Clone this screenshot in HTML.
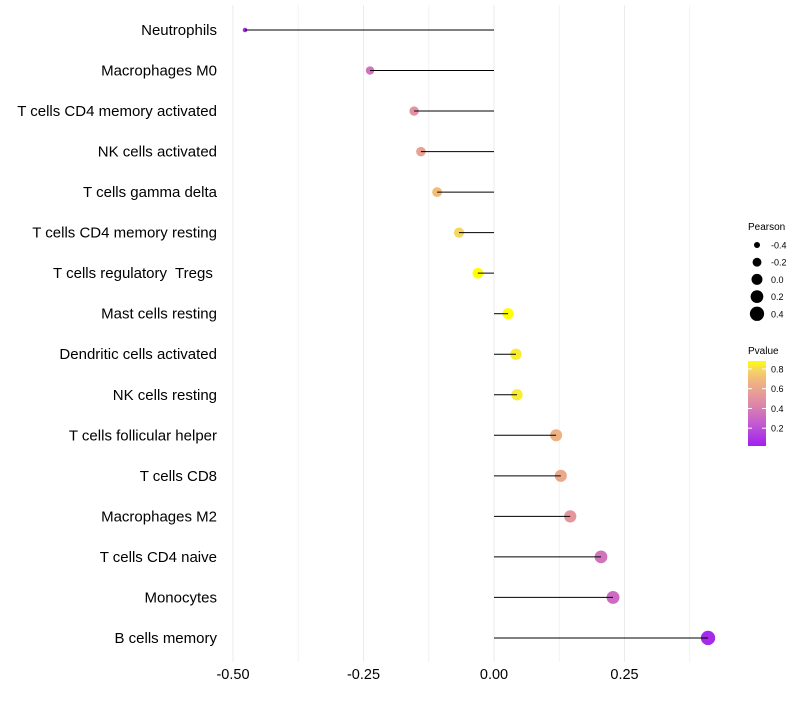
<!DOCTYPE html>
<html><head><meta charset="utf-8"><style>
body{margin:0;background:#fff;font-family:"Liberation Sans",sans-serif}
text{white-space:pre}
</style></head><body>
<svg id="c" width="800" height="700" xmlns="http://www.w3.org/2000/svg" style="font-family:'Liberation Sans',sans-serif">
<defs><linearGradient id="pg" x1="0" y1="1" x2="0" y2="0">
<stop offset="0" stop-color="#a020f0"/><stop offset="0.27" stop-color="#c45cd0"/><stop offset="0.5" stop-color="#de88a8"/><stop offset="0.67" stop-color="#eaa590"/><stop offset="0.8" stop-color="#f2bc78"/><stop offset="0.9" stop-color="#f5d860"/><stop offset="1" stop-color="#ffff00"/>
</linearGradient></defs>
<g id="grid"></g><g id="marks"></g><g id="labels"></g>
<g>
<text x="748" y="230" font-size="10">Pearson</text>
<g id="sleg"></g>
</g>
<g>
<text x="748" y="354" font-size="10">Pvalue</text>
<rect x="748" y="361" width="18" height="85" fill="url(#pg)"/>
<g id="cleg"></g>
</g>
</svg>
<script>
const categories=["Neutrophils","Macrophages M0","T cells CD4 memory activated","NK cells activated","T cells gamma delta","T cells CD4 memory resting","T cells regulatory  Tregs ","Mast cells resting","Dendritic cells activated","NK cells resting","T cells follicular helper","T cells CD8","Macrophages M2","T cells CD4 naive","Monocytes","B cells memory"];
const pearson=[-0.477,-0.2375,-0.153,-0.14,-0.109,-0.067,-0.031,0.027,0.042,0.044,0.119,0.128,0.146,0.205,0.228,0.41];
const pvalue=[0.05,0.35,0.5,0.58,0.72,0.82,0.9,0.9,0.86,0.86,0.66,0.62,0.52,0.36,0.32,0.06];
const xTicks=[-0.5,-0.25,0,0.25];
const xTickLabels=["-0.50","-0.25","0.00","0.25"];
const minorTicks=[-0.375,-0.125,0.125,0.375];
const sizeLegend=[-0.4,-0.2,0.0,0.2,0.4];
const sizeLegendLabels=["-0.4","-0.2","0.0","0.2","0.4"];
const colorTicks=[0.2,0.4,0.6,0.8];
const colorTickLabels=["0.2","0.4","0.6","0.8"];

const NS="http://www.w3.org/2000/svg";
const x=v=>494+v*522;
const y=i=>30+i*40.53;
const r=v=>Math.sqrt(Math.max(3,30+52*v));
const stops=[[0.02,[160,32,240]],[0.25,[196,92,208]],[0.45,[222,136,168]],[0.6,[234,165,144]],[0.72,[242,188,120]],[0.82,[245,216,96]],[0.9,[255,255,0]]];
function col(p){if(p<=stops[0][0])return "rgb("+stops[0][1]+")";for(let i=1;i<stops.length;i++){if(p<=stops[i][0]){const a=stops[i-1],b=stops[i],t=(p-a[0])/(b[0]-a[0]);return "rgb("+a[1].map((c,k)=>Math.round(c+(b[1][k]-c)*t)).join(",")+")";}}return "rgb(255,255,0)";}
function mk(tag,attrs,parent){const e=document.createElementNS(NS,tag);for(const k in attrs)e.setAttribute(k,attrs[k]);document.getElementById(parent).appendChild(e);return e;}
const cy=v=>446-(v-0.02)/0.86*85;

xTicks.forEach((t,i)=>{
  const g=mk("line",{x1:x(t),x2:x(t),y1:5,y2:662,stroke:"#ebebeb","stroke-width":1},"grid");
  
  
  const tx=mk("text",{x:x(t),y:679,"font-size":14.5,"text-anchor":"middle",fill:"#000"},"labels");
  tx.textContent=xTickLabels[i];
  
  
});
minorTicks.forEach(t=>{
  const g=mk("line",{x1:x(t),x2:x(t),y1:5,y2:662,stroke:"#f2f2f2","stroke-width":1},"grid");
  
  
});
categories.forEach((c,i)=>{
  const d=mk("circle",{cx:x(pearson[i]),cy:y(i),r:r(pearson[i]),fill:col(pvalue[i])},"marks");
  
  
  const l=mk("line",{x1:x(0),x2:x(pearson[i]),y1:y(i),y2:y(i),stroke:"#000","stroke-width":1},"marks");
  
  
  const t=mk("text",{x:217,y:y(i)+5,"font-size":15,"text-anchor":"end",fill:"#000"},"labels");
  t.textContent=c;
  
  
});
sizeLegend.forEach((v,i)=>{
  const yy=245+i*17.2;
  const c=mk("circle",{cx:757,cy:yy,r:r(v),fill:"#000"},"sleg");
  
  
  const t=mk("text",{x:771,y:yy+3.5,"font-size":9},"sleg");
  t.textContent=sizeLegendLabels[i];
  
  
});
colorTicks.forEach((v,i)=>{
  const t=mk("text",{x:771,y:cy(v)+3.5,"font-size":9},"cleg");
  t.textContent=colorTickLabels[i];
  
  
  const a=mk("line",{x1:748,x2:752,y1:cy(v),y2:cy(v),stroke:"#fff"},"cleg");
  
  
  const b=mk("line",{x1:762,x2:766,y1:cy(v),y2:cy(v),stroke:"#fff"},"cleg");
  
  
});
</script>
</body></html>
